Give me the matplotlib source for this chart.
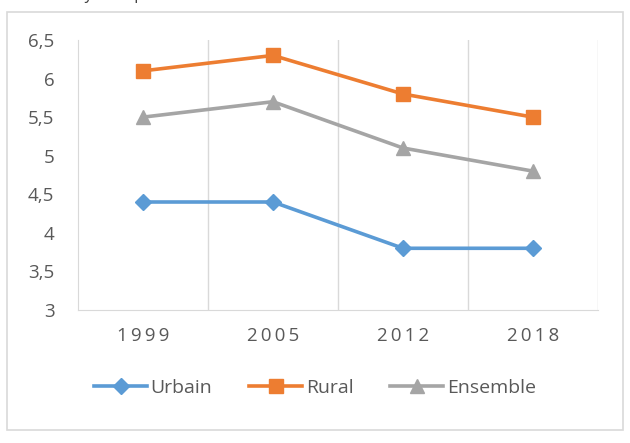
#!/usr/bin/env python3

import matplotlib
matplotlib.use('Agg')
import matplotlib.pyplot as plt
from matplotlib.patches import Rectangle

plt.rcParams['font.family'] = ['Open Sans', 'DejaVu Sans']

years = ['1999', '2005', '2012', '2018']
urbain = [4.4, 4.4, 3.8, 3.8]
rural = [6.1, 6.3, 5.8, 5.5]
ensemble = [5.5, 5.7, 5.1, 4.8]
yticks = [3, 3.5, 4, 4.5, 5, 5.5, 6, 6.5]

txt = '#595959'
grid = '#D9D9D9'

fig = plt.figure(figsize=(6.30, 4.43), dpi=100)
ax = fig.add_axes([78/630, 1-310/443, 520/630, 270/443])

# chart border
fig.patches.append(Rectangle((7/630, 1-430/443), 616/630, 418/443,
                             transform=fig.transFigure, fill=False,
                             edgecolor=grid, linewidth=1.2))
# title, almost entirely cut off by the top edge
fig.text(17/630, 1 + 0.5/443, "Taille moyenne par milieu de résidence",
         color='#404040', fontsize=11.5, va='baseline', ha='left')

x = range(len(years))
ax.plot(x, urbain, color='#5B9BD5', lw=2.6, marker='D', ms=8, label='Urbain', zorder=3)
ax.plot(x, rural, color='#ED7D31', lw=2.6, marker='s', ms=10, label='Rural', zorder=3)
ax.plot(x, ensemble, color='#A5A5A5', lw=2.6, marker='^', ms=10, label='Ensemble', zorder=3)

ax.set_xlim(-0.5, 3.5)
ax.set_ylim(3, 6.5)
ax.set_yticks(yticks)
ax.set_yticklabels([('%g' % v).replace('.', ',') for v in yticks])
ax.set_xticks(list(x))
ax.set_xticklabels(['\u2009'.join(y) for y in years])
for b in [0.5, 1.5, 2.5, 3.5]:
    ax.axvline(b, color=grid, lw=1, zorder=1)

for s in ['top', 'right']:
    ax.spines[s].set_visible(False)
for s in ['left', 'bottom']:
    ax.spines[s].set_color(grid)
ax.tick_params(axis='both', length=0, colors=txt, labelsize=13.5)
ax.tick_params(axis='y', pad=17)
ax.tick_params(axis='x', pad=12)

fig.legend(loc='center', bbox_to_anchor=(0.5, 1-388/443), ncol=3, frameon=False,
           fontsize=14, labelcolor=txt, handlelength=2.7, columnspacing=1.9,
           handletextpad=0.2)

plt.savefig('out.png', dpi=100)
